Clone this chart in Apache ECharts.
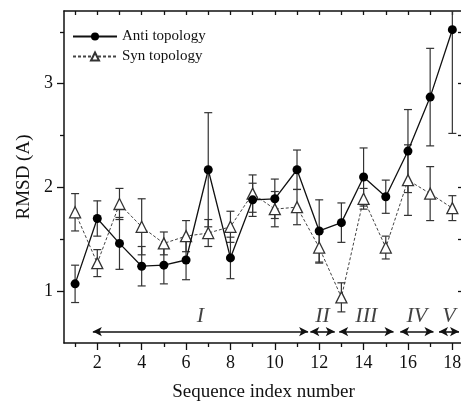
<!DOCTYPE html>
<html>
<head>
<meta charset="utf-8">
<script src="https://cdn.jsdelivr.net/npm/echarts@6/dist/echarts.min.js"></script>
<style>
  html, body { margin: 0; padding: 0; background: #fff; }
  #chart { width: 461px; height: 405px; }
</style>
</head>
<body>
<div id="chart"></div>
<script>
var seqIndex = [1, 2, 3, 4, 5, 6, 7, 8, 9, 10, 11, 12, 13, 14, 15, 16, 17, 18];
var antiMean = [1.07, 1.70, 1.46, 1.24, 1.25, 1.30, 2.17, 1.32, 1.88, 1.89, 2.17, 1.58, 1.66, 2.10, 1.91, 2.35, 2.87, 3.52];
var antiErr  = [0.18, 0.17, 0.25, 0.19, 0.18, 0.19, 0.55, 0.20, 0.16, 0.19, 0.19, 0.30, 0.19, 0.28, 0.16, 0.40, 0.47, 1.00];
var synMean  = [1.76, 1.27, 1.84, 1.62, 1.46, 1.53, 1.56, 1.62, 1.94, 1.79, 1.81, 1.42, 0.94, 1.89, 1.42, 2.07, 1.94, 1.80];
var synErr   = [0.18, 0.13, 0.15, 0.27, 0.11, 0.15, 0.13, 0.15, 0.18, 0.17, 0.17, 0.15, 0.14, 0.10, 0.11, 0.34, 0.26, 0.12];

// regions marked under the curves
var regionNames = ['I', 'II', 'III', 'IV', 'V'];
var regionStart = [1.8, 11.6, 12.9, 15.65, 17.4];
var regionEnd   = [11.5, 12.7, 15.35, 17.15, 18.3];
var regionArrowY = 0.61;
var regionLabelY = 0.76;

var xMajor = [2, 4, 6, 8, 10, 12, 14, 16, 18];
var xMinor = [1, 3, 5, 7, 9, 11, 13, 15, 17];
var yMajor = [1, 2, 3];
var yMinor = [1.5, 2.5, 3.5];

var X_MIN = 0.5, X_MAX = 18.48, Y_MIN = 0.5, Y_MAX = 3.7;
var FONT = '"Liberation Serif", "DejaVu Serif", serif';
var INK = '#111';

function errData(mean, err) {
  var out = [];
  for (var i = 0; i < seqIndex.length; i++) {
    out.push([seqIndex[i], mean[i] - err[i], mean[i] + err[i]]);
  }
  return out;
}

function pairs(mean) {
  return seqIndex.map(function (x, i) { return [x, mean[i]]; });
}

function renderErr(params, api) {
  var cs = params.coordSys;
  var lo = api.coord([api.value(0), api.value(1)]);
  var hi = api.coord([api.value(0), api.value(2)]);
  var top = Math.max(hi[1], cs.y);
  var bot = Math.min(lo[1], cs.y + cs.height);
  var x = lo[0], w = 4;
  var st = { stroke: '#333', lineWidth: 1.2 };
  var kids = [{ type: 'line', shape: { x1: x, y1: top, x2: x, y2: bot }, style: st }];
  if (hi[1] >= cs.y) kids.push({ type: 'line', shape: { x1: x - w, y1: hi[1], x2: x + w, y2: hi[1] }, style: st });
  if (lo[1] <= cs.y + cs.height) kids.push({ type: 'line', shape: { x1: x - w, y1: lo[1], x2: x + w, y2: lo[1] }, style: st });
  return { type: 'group', children: kids };
}

var arrowLines = [];
var regionLabelData = [];
for (var r = 0; r < regionNames.length; r++) {
  arrowLines.push([{ coord: [regionStart[r], regionArrowY] }, { coord: [regionEnd[r], regionArrowY] }]);
  regionLabelData.push({ value: [(regionStart[r] + regionEnd[r]) / 2, regionLabelY], name: regionNames[r] });
}

// plot box runs a little past the right edge of the window, as in the original
var gridBox = { left: 64, width: 399, top: 11, height: 332, outerBoundsMode: 'none', containLabel: false };

var chart = echarts.init(document.getElementById('chart'), null, { renderer: 'canvas' });
chart.setOption({
  animation: false,
  backgroundColor: '#fff',
  grid: [
    Object.assign({}, gridBox),
    Object.assign({}, gridBox)
  ],
  legend: {
    orient: 'vertical',
    left: 67,
    top: 24,
    itemWidth: 44,
    itemHeight: 10,
    itemGap: 5,
    textStyle: { fontFamily: FONT, fontSize: 15, color: INK },
    data: ['Anti topology', 'Syn topology']
  },
  xAxis: [
    {
      type: 'value', gridIndex: 0, position: 'bottom', min: X_MIN, max: X_MAX,
      name: 'Sequence index number', nameLocation: 'middle', nameGap: 40,
      nameTextStyle: { fontFamily: FONT, fontSize: 19, color: INK },
      axisLine: { show: true, lineStyle: { color: INK, width: 1.5 } },
      axisTick: { show: true, inside: false, length: 7, customValues: xMajor, lineStyle: { color: INK, width: 1.3 } },
      axisLabel: { customValues: xMajor, margin: 11, fontFamily: FONT, fontSize: 18, color: INK },
      splitLine: { show: false }
    },
    {
      type: 'value', gridIndex: 0, position: 'top', min: X_MIN, max: X_MAX,
      axisLine: { show: true, lineStyle: { color: INK, width: 1.5 } },
      axisTick: { show: true, inside: true, length: 4, customValues: seqIndex, lineStyle: { color: INK, width: 1.3 } },
      axisLabel: { show: false },
      splitLine: { show: false }
    },
    {
      type: 'value', gridIndex: 1, position: 'bottom', min: X_MIN, max: X_MAX,
      axisLine: { show: false },
      axisTick: { show: true, inside: false, length: 4, customValues: xMinor, lineStyle: { color: INK, width: 1.3 } },
      axisLabel: { show: false },
      splitLine: { show: false }
    }
  ],
  yAxis: [
    {
      type: 'value', gridIndex: 0, position: 'left', min: Y_MIN, max: Y_MAX,
      name: 'RMSD (A)', nameLocation: 'middle', nameGap: 30, nameRotate: 90,
      nameTextStyle: { fontFamily: FONT, fontSize: 19, color: INK },
      axisLine: { show: true, lineStyle: { color: INK, width: 1.5 } },
      axisTick: { show: true, inside: false, length: 7, customValues: yMajor, lineStyle: { color: INK, width: 1.3 } },
      axisLabel: { customValues: yMajor, margin: 11, fontFamily: FONT, fontSize: 18, color: INK },
      splitLine: { show: false }
    },
    {
      type: 'value', gridIndex: 0, position: 'right', min: Y_MIN, max: Y_MAX,
      axisLine: { show: true, lineStyle: { color: INK, width: 1.5 } },
      axisTick: { show: true, inside: true, length: 5, customValues: [1, 1.5, 2, 2.5, 3, 3.5], lineStyle: { color: INK, width: 1.3 } },
      axisLabel: { show: false },
      splitLine: { show: false }
    },
    {
      type: 'value', gridIndex: 1, position: 'left', min: Y_MIN, max: Y_MAX,
      axisLine: { show: false },
      axisTick: { show: true, inside: false, length: 4, customValues: yMinor, lineStyle: { color: INK, width: 1.3 } },
      axisLabel: { show: false },
      splitLine: { show: false }
    }
  ],
  series: [
    {
      type: 'custom', name: 'syn err', xAxisIndex: 0, yAxisIndex: 0, z: 1,
      renderItem: renderErr, data: errData(synMean, synErr), silent: true
    },
    {
      type: 'custom', name: 'anti err', xAxisIndex: 0, yAxisIndex: 0, z: 1,
      renderItem: renderErr, data: errData(antiMean, antiErr), silent: true
    },
    {
      name: 'Syn topology', type: 'line', xAxisIndex: 0, yAxisIndex: 0, z: 3,
      data: pairs(synMean),
      symbol: 'triangle', symbolSize: 11, showAllSymbol: true,
      lineStyle: { color: '#444', width: 1, type: [3, 2] },
      itemStyle: { color: '#fff', borderColor: '#333', borderWidth: 1.3 }
    },
    {
      name: 'Anti topology', type: 'line', xAxisIndex: 0, yAxisIndex: 0, z: 4,
      data: pairs(antiMean),
      symbol: 'circle', symbolSize: 9, showAllSymbol: true,
      lineStyle: { color: INK, width: 1.3 },
      itemStyle: { color: '#000', borderColor: '#000', borderWidth: 0 }
    },
    {
      type: 'scatter', name: 'regions', xAxisIndex: 0, yAxisIndex: 0, z: 2,
      symbolSize: 0, silent: true,
      data: regionLabelData,
      label: {
        show: true, position: 'inside', formatter: '{b}',
        fontFamily: FONT, fontStyle: 'italic', fontSize: 22, color: INK
      },
      markLine: {
        silent: true,
        symbol: ['arrow', 'arrow'], symbolSize: [7, 9],
        label: { show: false },
        lineStyle: { color: INK, width: 1.6, type: 'solid' },
        data: arrowLines
      }
    }
  ]
});
</script>
</body>
</html>
